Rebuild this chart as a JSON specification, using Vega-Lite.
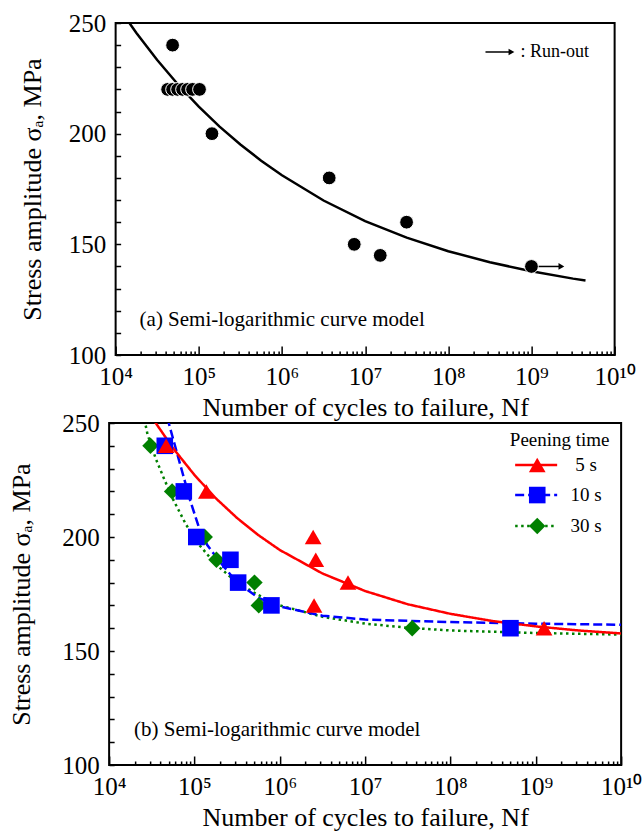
{
  "$schema": "https://vega.github.io/schema/vega-lite/v6.json",
  "background": "white",
  "padding": {"left": 7, "top": 10, "right": 5, "bottom": 5},
  "spacing": -11,
  "center": true,
  "config": {
    "font": "Liberation Serif",
    "view": {"stroke": "black", "strokeWidth": 2},
    "axis": {
      "labelFont": "Liberation Serif", "titleFont": "Liberation Serif",
      "labelFontSize": 25, "titleFontSize": 26, "titleFontWeight": "normal",
      "labelColor": "black", "titleColor": "black", "tickColor": "black",
      "domain": false, "grid": false, "tickWidth": 1.5,
      "labelFlush": false, "labelOverlap": false, "labelBound": false
    }
  },
  "datasets": {
    "curveA": [
      {"N": 12589, "S": 253.5}, {"N": 17783, "S": 245.5}, {"N": 31623, "S": 233.3},
      {"N": 56234, "S": 222.2}, {"N": 100000, "S": 212.2}, {"N": 177828, "S": 203.2},
      {"N": 316228, "S": 195.1}, {"N": 562341, "S": 187.8}, {"N": 1000000, "S": 181.2},
      {"N": 3162278, "S": 169.8}, {"N": 10000000, "S": 160.5}, {"N": 31622777, "S": 153.0},
      {"N": 100000000, "S": 146.9}, {"N": 316227766, "S": 141.9}, {"N": 1000000000, "S": 137.8},
      {"N": 3162277660, "S": 134.5}, {"N": 4466835922, "S": 133.7}
    ],
    "pointsA": [
      {"N": 48400, "S": 240},
      {"N": 42200, "S": 220}, {"N": 48400, "S": 220}, {"N": 55600, "S": 220},
      {"N": 63800, "S": 220}, {"N": 73300, "S": 220}, {"N": 84100, "S": 220},
      {"N": 102000, "S": 220},
      {"N": 144000, "S": 200}, {"N": 3700000, "S": 180}, {"N": 31500000, "S": 160},
      {"N": 7400000, "S": 150}, {"N": 15200000, "S": 145}, {"N": 1000000000, "S": 140}
    ],
    "arrowsA": [
      {"N": 1000000000, "N2": 2170000000, "S": 140},
      {"N": 280000000, "N2": 545000000, "S": 236.9}
    ],
    "headsA": [
      {"N": 2290000000, "S": 140},
      {"N": 575000000, "S": 236.9}
    ],
    "textA": [
      {"N": 19400, "S": 115.8, "t": "(a) Semi-logarithmic curve model", "fs": 21},
      {"N": 738000000, "S": 236.9, "t": ": Run-out", "fs": 18}
    ],
    "curvesB": [
      {"series": "30 s", "N": 25119, "S": 254}, {"series": "30 s", "N": 28184, "S": 245},
      {"series": "30 s", "N": 35481, "S": 234}, {"series": "30 s", "N": 44668, "S": 225},
      {"series": "30 s", "N": 56234, "S": 216.5}, {"series": "30 s", "N": 79433, "S": 205.5},
      {"series": "30 s", "N": 112202, "S": 196.8}, {"series": "30 s", "N": 177828, "S": 188},
      {"series": "30 s", "N": 316228, "S": 180}, {"series": "30 s", "N": 562341, "S": 174.5},
      {"series": "30 s", "N": 1000000, "S": 170}, {"series": "30 s", "N": 3162278, "S": 165},
      {"series": "30 s", "N": 10000000, "S": 162}, {"series": "30 s", "N": 31622777, "S": 160.2},
      {"series": "30 s", "N": 100000000, "S": 159}, {"series": "30 s", "N": 1000000000, "S": 157.9},
      {"series": "30 s", "N": 10000000000, "S": 157.2},
      {"series": "10 s", "N": 47863, "S": 252.5}, {"series": "10 s", "N": 56234, "S": 243},
      {"series": "10 s", "N": 70795, "S": 229.5}, {"series": "10 s", "N": 89125, "S": 216},
      {"series": "10 s", "N": 112202, "S": 204.5}, {"series": "10 s", "N": 141254, "S": 196.5},
      {"series": "10 s", "N": 199526, "S": 189}, {"series": "10 s", "N": 316228, "S": 180},
      {"series": "10 s", "N": 562341, "S": 173.3}, {"series": "10 s", "N": 1000000, "S": 169.5},
      {"series": "10 s", "N": 3162278, "S": 165.5}, {"series": "10 s", "N": 10000000, "S": 163.8},
      {"series": "10 s", "N": 100000000, "S": 162.7}, {"series": "10 s", "N": 1000000000, "S": 162.0},
      {"series": "10 s", "N": 10000000000, "S": 161.5},
      {"series": "5 s", "N": 31623, "S": 252.5}, {"series": "5 s", "N": 56234, "S": 238.9},
      {"series": "5 s", "N": 100000, "S": 227.2}, {"series": "5 s", "N": 177828, "S": 217.0},
      {"series": "5 s", "N": 316228, "S": 208.3}, {"series": "5 s", "N": 562341, "S": 200.8},
      {"series": "5 s", "N": 1000000, "S": 194.3}, {"series": "5 s", "N": 3162278, "S": 184.0},
      {"series": "5 s", "N": 10000000, "S": 176.3}, {"series": "5 s", "N": 31622777, "S": 170.5},
      {"series": "5 s", "N": 100000000, "S": 166.3}, {"series": "5 s", "N": 316227766, "S": 163.1},
      {"series": "5 s", "N": 1000000000, "S": 160.8}, {"series": "5 s", "N": 3162277660, "S": 159.0},
      {"series": "5 s", "N": 10000000000, "S": 157.7}
    ],
    "pointsB": [
      {"series": "30 s", "N": 30500, "S": 240}, {"series": "30 s", "N": 54700, "S": 220},
      {"series": "30 s", "N": 132000, "S": 200}, {"series": "30 s", "N": 181000, "S": 190},
      {"series": "30 s", "N": 505000, "S": 180}, {"series": "30 s", "N": 567000, "S": 170},
      {"series": "30 s", "N": 35600000, "S": 160},
      {"series": "10 s", "N": 44900, "S": 240}, {"series": "10 s", "N": 75000, "S": 220},
      {"series": "10 s", "N": 105000, "S": 200}, {"series": "10 s", "N": 264000, "S": 190},
      {"series": "10 s", "N": 325000, "S": 180}, {"series": "10 s", "N": 798000, "S": 170},
      {"series": "10 s", "N": 505000000, "S": 160},
      {"series": "5 s", "N": 46600, "S": 240}, {"series": "5 s", "N": 138000, "S": 220},
      {"series": "5 s", "N": 2460000, "S": 200}, {"series": "5 s", "N": 2640000, "S": 190},
      {"series": "5 s", "N": 6300000, "S": 180}, {"series": "5 s", "N": 2520000, "S": 170},
      {"series": "5 s", "N": 1250000000, "S": 160}
    ],
    "legendB": [
      {"series": "5 s", "N1": 573000000, "N2": 1780000000, "Nm": 1040000000, "Nt": 3890000000, "S": 231.6},
      {"series": "10 s", "N1": 573000000, "N2": 1780000000, "Nm": 1040000000, "Nt": 3890000000, "S": 218.4},
      {"series": "30 s", "N1": 573000000, "N2": 1780000000, "Nm": 1040000000, "Nt": 3890000000, "S": 204.8}
    ],
    "textB": [
      {"N": 19600, "S": 115.3, "t": "(b) Semi-logarithmic curve model", "fs": 21, "al": "left"},
      {"N": 1905000000, "S": 242.5, "t": "Peening time", "fs": 19, "al": "center"}
    ]
  },
  "vconcat": [
    {
      "width": 499, "height": 332,
      "encoding": {
        "x": {"field": "N", "type": "quantitative",
          "scale": {"type": "log", "domain": [10000, 10000000000]},
          "axis": {
            "title": "Number of cycles to failure, Nf", "titlePadding": 0,
            "values": [10000,20000,30000,40000,50000,60000,70000,80000,90000,100000,200000,300000,400000,500000,600000,700000,800000,900000,1000000,2000000,3000000,4000000,5000000,6000000,7000000,8000000,9000000,10000000,20000000,30000000,40000000,50000000,60000000,70000000,80000000,90000000,100000000,200000000,300000000,400000000,500000000,600000000,700000000,800000000,900000000,1000000000,2000000000,3000000000,4000000000,5000000000,6000000000,7000000000,8000000000,9000000000,10000000000],
            "labelExpr": "abs(log(datum.value)/LN10 - round(log(datum.value)/LN10)) < 0.001 ? ['','','','','10⁴','10⁵','10⁶','10⁷','10⁸','10⁹','10¹⁰'][round(log(datum.value)/LN10)] : ''",
            "tickSize": {"condition": {"test": "abs(log(datum.value)/LN10 - round(log(datum.value)/LN10)) < 0.001", "value": -9}, "value": -4},
            "labelPadding": 18
          }},
        "y": {"field": "S", "type": "quantitative",
          "scale": {"domain": [100, 250]},
          "axis": {
            "title": "Stress amplitude σₐ, MPa", "titlePadding": 23,
            "values": [100,110,120,130,140,150,160,170,180,190,200,210,220,230,240,250],
            "labelExpr": "datum.value % 50 == 0 ? datum.label : ''",
            "tickSize": -5, "labelPadding": 15
          }}
      },
      "layer": [
        {"data": {"name": "curveA"}, "mark": {"type": "line", "color": "black", "strokeWidth": 2.5, "clip": true}},
        {"data": {"name": "arrowsA"}, "mark": {"type": "rule", "color": "black", "strokeWidth": 1.5},
          "encoding": {"x2": {"field": "N2"}}},
        {"data": {"name": "headsA"}, "mark": {"type": "point", "shape": "triangle-right", "filled": true, "color": "black", "size": 45, "opacity": 1}},
        {"data": {"name": "pointsA"}, "mark": {"type": "point", "shape": "circle", "filled": true, "fill": "black", "stroke": "white", "strokeWidth": 1, "size": 190, "opacity": 1}},
        {"data": {"name": "textA"}, "mark": {"type": "text", "align": "left", "baseline": "middle", "font": "Liberation Serif", "color": "black"},
          "encoding": {"text": {"field": "t"}, "size": {"field": "fs", "type": "quantitative", "scale": null}}}
      ]
    },
    {
      "width": 512, "height": 342,
      "encoding": {
        "x": {"field": "N", "type": "quantitative",
          "scale": {"type": "log", "domain": [10000, 10000000000]},
          "axis": {
            "title": "Number of cycles to failure, Nf", "titlePadding": 0,
            "values": [10000,20000,30000,40000,50000,60000,70000,80000,90000,100000,200000,300000,400000,500000,600000,700000,800000,900000,1000000,2000000,3000000,4000000,5000000,6000000,7000000,8000000,9000000,10000000,20000000,30000000,40000000,50000000,60000000,70000000,80000000,90000000,100000000,200000000,300000000,400000000,500000000,600000000,700000000,800000000,900000000,1000000000,2000000000,3000000000,4000000000,5000000000,6000000000,7000000000,8000000000,9000000000,10000000000],
            "labelExpr": "abs(log(datum.value)/LN10 - round(log(datum.value)/LN10)) < 0.001 ? ['','','','','10⁴','10⁵','10⁶','10⁷','10⁸','10⁹','10¹⁰'][round(log(datum.value)/LN10)] : ''",
            "tickSize": {"condition": {"test": "abs(log(datum.value)/LN10 - round(log(datum.value)/LN10)) < 0.001", "value": -9}, "value": -4},
            "labelPadding": 18
          }},
        "y": {"field": "S", "type": "quantitative",
          "scale": {"domain": [100, 250]},
          "axis": {
            "title": "Stress amplitude σₐ, MPa", "titlePadding": 27,
            "values": [100,110,120,130,140,150,160,170,180,190,200,210,220,230,240,250],
            "labelExpr": "datum.value % 50 == 0 ? datum.label : ''",
            "tickSize": -5, "labelPadding": 15
          }}
      },
      "layer": [
        {"data": {"name": "curvesB"}, "mark": {"type": "line", "strokeWidth": 2.5, "clip": true},
          "encoding": {
            "color": {"field": "series", "type": "nominal", "scale": {"domain": ["5 s", "10 s", "30 s"], "range": ["#ff0000", "#0000ff", "#008000"]}, "legend": null},
            "strokeDash": {"field": "series", "type": "nominal", "scale": {"domain": ["5 s", "10 s", "30 s"], "range": [[1, 0], [9, 4], [2.5, 3.5]]}, "legend": null}
          }},
        {"data": {"name": "pointsB"}, "mark": {"type": "point", "filled": true, "opacity": 1},
          "encoding": {
            "color": {"field": "series", "type": "nominal", "scale": {"domain": ["5 s", "10 s", "30 s"], "range": ["#ff0000", "#0000ff", "#008000"]}, "legend": null},
            "shape": {"field": "series", "type": "nominal", "scale": {"domain": ["5 s", "10 s", "30 s"], "range": ["triangle-up", "square", "diamond"]}, "legend": null},
            "size": {"field": "series", "type": "nominal", "scale": {"domain": ["5 s", "10 s", "30 s"], "range": [280, 270, 220]}, "legend": null}
          }},
        {"data": {"name": "legendB"}, "mark": {"type": "rule", "strokeWidth": 2.5},
          "encoding": {
            "x": {"field": "N1", "type": "quantitative"}, "x2": {"field": "N2"},
            "color": {"field": "series", "type": "nominal", "legend": null},
            "strokeDash": {"field": "series", "type": "nominal", "legend": null}
          }},
        {"data": {"name": "legendB"}, "mark": {"type": "point", "filled": true, "opacity": 1},
          "encoding": {
            "x": {"field": "Nm", "type": "quantitative"},
            "color": {"field": "series", "type": "nominal", "legend": null},
            "shape": {"field": "series", "type": "nominal", "legend": null},
            "size": {"field": "series", "type": "nominal", "legend": null}
          }},
        {"data": {"name": "legendB"}, "mark": {"type": "text", "align": "center", "baseline": "middle", "fontSize": 19, "font": "Liberation Serif", "color": "black"},
          "encoding": {"x": {"field": "Nt", "type": "quantitative"}, "text": {"field": "series"}}},
        {"data": {"name": "textB"}, "transform": [{"filter": "datum.al == 'left'"}], "mark": {"type": "text", "align": "left", "baseline": "middle", "fontSize": 21, "font": "Liberation Serif", "color": "black"},
          "encoding": {"text": {"field": "t"}}},
        {"data": {"name": "textB"}, "transform": [{"filter": "datum.al == 'center'"}], "mark": {"type": "text", "align": "center", "baseline": "middle", "fontSize": 19, "font": "Liberation Serif", "color": "black"},
          "encoding": {"text": {"field": "t"}}}
      ]
    }
  ]
}
